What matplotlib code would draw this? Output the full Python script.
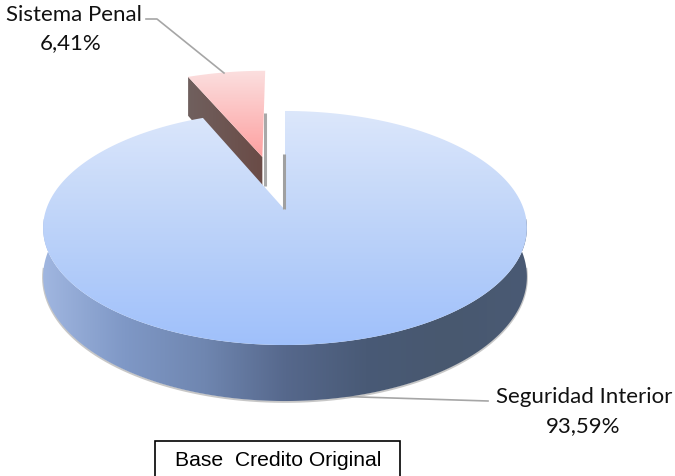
#!/usr/bin/env python3
"""Exploded 3D look pie, drawn with a small perspective projection."""

import numpy as np
import matplotlib
matplotlib.use('Agg')
import matplotlib.pyplot as plt
from matplotlib.colors import LinearSegmentedColormap
from matplotlib.patches import Polygon, Rectangle

# Data
labels = ['Seguridad Interior', 'Sistema Penal']
values = [93.59, 6.41]
pct_labels = ['93,59%', '6,41%']
note = 'Base  Credito Original'

# Projection of the unit disc on to the canvas (pixels)
CX, APEX_Y, RADIUS = 285.0, 211.0, 239.0
PERSP, SLOPE, DEPTH = 0.1538, -81.8, 47.4
EXPLODE = 0.51


def project(u, v, lower=False):
    w = 1 + PERSP * v
    x = CX + RADIUS * u / w
    y = (APEX_Y + SLOPE * v) / w
    if lower:
        y = y + DEPTH / w
    return np.column_stack([x, y])


def rim(t_deg, off=(0, 0), lower=False):
    t = np.radians(t_deg)
    return project(off[0] + np.sin(t), off[1] + np.cos(t), lower)


def gradient(ax, stops, clip, box, vertical=True):
    cmap = LinearSegmentedColormap.from_list('g', stops)
    ramp = np.linspace(0, 1, 256)
    arr = ramp[:, None] if vertical else ramp[None, :]
    im = ax.imshow(arr, cmap=cmap, extent=box, origin='upper', aspect='auto',
                   interpolation='bilinear', zorder=clip.get_zorder())
    im.set_clip_path(clip)


fig = plt.figure(figsize=(6.75, 4.77), dpi=100)
ax = fig.add_axes([0, 0, 1, 1])
ax.axis('off')

# Angles come from the values: main slice goes clockwise from 12 o'clock
sweep = 360 * values[1] / sum(values)
t_main = np.linspace(0, 360 - sweep, 400)
t_small = np.linspace(-sweep, 0, 40)
bis = np.radians(-sweep / 2)
off = (EXPLODE * np.sin(bis), EXPLODE * np.cos(bis))

# small slice: wall, then top face
apex_s = project(np.array([off[0]]), np.array([off[1]]))
apex_s_low = project(np.array([off[0]]), np.array([off[1]]), lower=True)
left_s = rim(np.array([-sweep]), off)
left_s_low = rim(np.array([-sweep]), off, lower=True)
wall = Polygon(np.vstack([left_s, apex_s, apex_s_low, left_s_low]), closed=True,
               fc='none', ec='none', zorder=2)
ax.add_patch(wall)
gradient(ax, ['#70605e', '#6a4b46'], wall, (187, 264, 240, 70), vertical=False)

# shadow right of the small slice
ax.plot([apex_s[0, 0] + 2.5] * 2, [114, 187], color='#a9a9a9', lw=2.2, zorder=1,
        solid_capstyle='butt')

top_s = Polygon(np.vstack([apex_s, rim(t_small, off)]), closed=True,
                fc='none', ec='none', zorder=3)
ax.add_patch(top_s)
gradient(ax, ['#fbe0e0', '#fe9f9f'], top_s, (180, 270, 160, 70))

# main slice: side, shadow, top face
t_side = np.linspace(75, 285, 300)
side_pts = np.vstack([rim(t_side), rim(t_side[::-1], lower=True)])
side = Polygon(side_pts, closed=True, fc='none', ec='none', zorder=5)
ax.add_patch(side)
gradient(ax, ['#a0b6e0', '#7f98c6', '#6f86b0', '#56688c', '#495a76', '#48586f', '#4a5a74'],
         side, (43, 528, 410, 220), vertical=False)
low = rim(np.linspace(95, 265, 200), lower=True)
ax.plot(low[:, 0], low[:, 1] + 0.8, color='#9a9a9a', lw=1.5, alpha=0.55, zorder=4)

apex = project(np.array([0.0]), np.array([0.0]))
top_main = Polygon(np.vstack([apex, rim(t_main)]), closed=True,
                   fc='none', ec='none', zorder=6)
ax.add_patch(top_main)
gradient(ax, ['#dce7fb', '#bdd3f9', '#9fc0fb'], top_main, (40, 530, 347, 111))

# shadow on the notch edge
ax.plot([apex[0, 0] - 1.5] * 2, [155, 210], color='#a0a0a0', lw=2.2, zorder=7,
        solid_capstyle='butt')

# leader lines
ax.plot([146, 157, 224], [20, 20, 74], color='#a6a6a6', lw=1.2, zorder=8)
ax.plot([488, 360, 345], [402, 398, 397], color='#a6a6a6', lw=1.2, zorder=4)

# labels
font = ['Lato', 'DejaVu Sans']
ax.text(584, 397, labels[0], ha='center', va='center', fontsize=16, family=font, color='#111111')
ax.text(583, 426, pct_labels[0], ha='center', va='center', fontsize=16, family=font, color='#111111')
ax.text(74, 15, labels[1], ha='center', va='center', fontsize=16, family=font, color='#111111')
ax.text(71, 43, pct_labels[1], ha='center', va='center', fontsize=16, family=font, color='#111111')

# note box runs off the bottom of the canvas
ax.add_patch(Rectangle((155, 442), 244.5, 50, fc='white', ec='black', lw=1.2, zorder=9))
ax.text(278, 461, note, ha='center', va='center', fontsize=15.2,
        family='Liberation Sans', color='black', zorder=10)

ax.set_xlim(0, 675)
ax.set_ylim(477, 0)
fig.savefig('out.png', dpi=100)
